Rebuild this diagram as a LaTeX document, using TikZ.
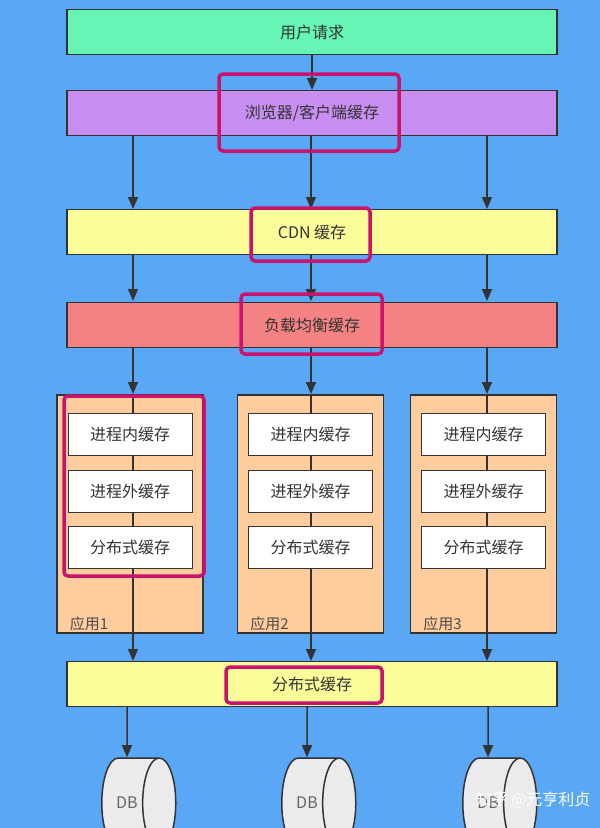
\documentclass[tikz,border=0pt]{standalone}
\usepackage{fontspec}
\setmainfont{Noto Sans CJK SC}
\usetikzlibrary{shapes.geometric,arrows.meta}
\definecolor{bg}{HTML}{5AA8F5}
\definecolor{grn}{HTML}{66F5B5}
\definecolor{pur}{HTML}{C98EF2}
\definecolor{yel}{HTML}{FCFC9A}
\definecolor{redb}{HTML}{F58282}
\definecolor{org}{HTML}{FFCC9E}
\definecolor{hl}{HTML}{C8146E}
\definecolor{edge}{HTML}{333333}
\begin{document}
\begin{tikzpicture}[x=1pt,y=-1pt,
  bar/.style={draw=edge,line width=1.2pt,minimum width=490pt,minimum height=45pt,font=\fontsize{16}{18}\selectfont,text=black!80},
  app/.style={draw=edge,line width=1.2pt,fill=org,minimum width=146pt,minimum height=238pt},
  inner/.style={draw=edge,line width=1pt,fill=white,minimum width=124pt,minimum height=42pt,font=\fontsize{16}{18}\selectfont,text=black!80},
  hlbox/.style={draw=hl,line width=3.5pt,rounded corners=4pt},
  arr/.style={draw=edge,line width=1.5pt,-{Triangle[length=12pt,width=10pt]}},
  db/.style={cylinder,draw=edge,line width=1.5pt,fill=black!8,minimum width=90pt,minimum height=74pt,aspect=1.8,font=\fontsize{16}{18}\selectfont,text=black!60}]
\fill[bg] (0,0) rectangle (600,828);
\useasboundingbox (0,0) rectangle (600,828);
\node[bar,fill=grn] (user) at (312,32) {用户请求};
\node[bar,fill=pur] (browser) at (312,113) {浏览器/客户端缓存};
\node[bar,fill=yel] (cdn) at (312,232) {CDN 缓存};
\node[bar,fill=redb] (lb) at (312,325) {负载均衡缓存};
\node[bar,fill=yel] (dist) at (312,684) {分布式缓存};
\draw[arr] (user.south) -- (browser.north);
\foreach \x in {133,311,487}{
  \draw[arr] (\x,136) -- (\x,209);
  \draw[arr] (\x,255) -- (\x,301);
}
\foreach \i/\x/\ax in {1/130/133,2/310.5/311,3/483.5/487}{
  \node[app] (app\i) at (\x,514) {};
  \draw[arr] (\ax,348) -- (\ax,394);
  \draw[arr] (\ax,395) -- (\ax,661);
  \node[inner] (a\i p) at (\x,434) {进程内缓存};
  \node[inner] (a\i o) at (\x,491) {进程外缓存};
  \node[inner] (a\i d) at (\x,547) {分布式缓存};
  \node[anchor=south west,font=\fontsize{15}{17}\selectfont,text=black!70] (lab\i) at ([xshift=10pt,yshift=-1pt]app\i.south west) {应用\i};
}
\foreach \i/\x in {1/127,2/307,3/488}{
  \node[db] (db\i) at (\x,803) {DB};
  \draw[arr] (\x,707) -- (db\i.north);
}
\draw[hlbox] (219,74) rectangle (399,151);
\draw[hlbox] (251,208) rectangle (370,261);
\draw[hlbox] (241,294) rectangle (382,354);
\draw[hlbox] (64,396) rectangle (204,576);
\draw[hlbox] (226,667) rectangle (382,703);
\node[text=white,font=\fontsize{16}{18}\selectfont,anchor=east] (wm) at (594,800) {知乎 @元亨利贞};
\end{tikzpicture}
\end{document}
